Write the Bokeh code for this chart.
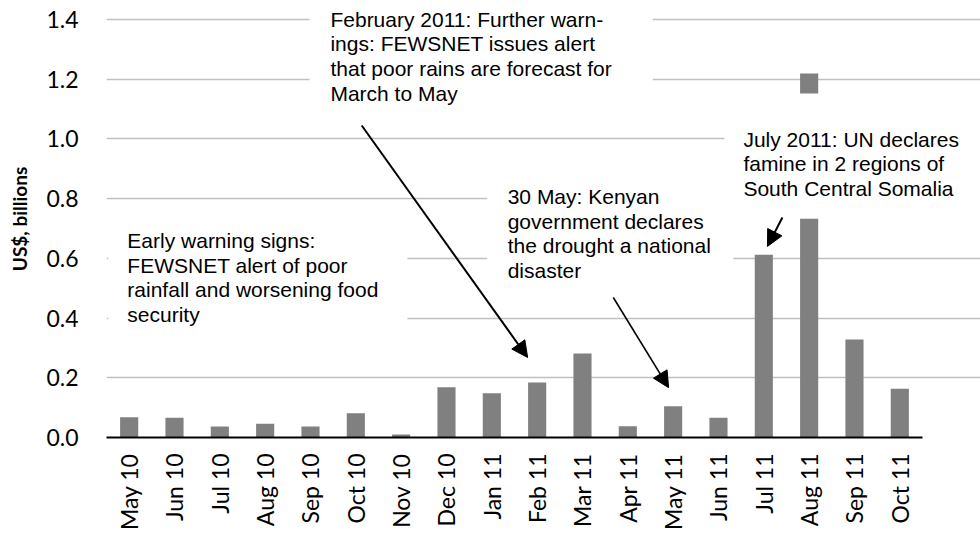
import math
from bokeh.plotting import figure
from bokeh.models import (Range1d, BoxAnnotation, Arrow, NormalHead,
                          Label, ColumnDataSource, FixedTicker, NumeralTickFormatter)
from bokeh.embed import file_html
from bokeh.resources import INLINE

# ---- data ----
months = ["May 10", "Jun 10", "Jul 10", "Aug 10", "Sep 10", "Oct 10", "Nov 10",
          "Dec 10", "Jan 11", "Feb 11", "Mar 11", "Apr 11", "May 11", "Jun 11",
          "Jul 11", "Aug 11", "Sep 11", "Oct 11"]
funding = [0.068, 0.066, 0.037, 0.046, 0.037, 0.081, 0.010, 0.168, 0.148, 0.184,
           0.281, 0.038, 0.105, 0.066, 0.612, 1.219, 0.328, 0.163]
y_ticks = [0.0, 0.2, 0.4, 0.6, 0.8, 1.0, 1.2, 1.4]

note_texts = [
    "Early warning signs:\nFEWSNET alert of poor\nrainfall and worsening food\nsecurity",
    "February 2011: Further warn-\nings: FEWSNET issues alert\nthat poor rains are forecast for\nMarch to May",
    "30 May: Kenyan\ngovernment declares\nthe drought a national\ndisaster",
    "July 2011: UN declares\nfamine in 2 regions of\nSouth Central Somalia",
]
note_x = [0.46, 4.94, 8.85, 14.05]
note_y = [0.698, 1.439, 0.846, 1.037]
# white text-box backgrounds (left, right, bottom, top)
box_left = [0.04, 4.48, 8.40, 13.63]
box_right = [6.64, 12.05, 13.83, 19.5]
box_bottom = [0.352, 1.112, 0.519, 0.733]
box_top = [0.72, 1.6, 0.861, 1.152]
# arrows
arr_x0 = [5.63, 11.18, 14.91]
arr_y0 = [1.045, 0.469, 0.737]
arr_x1 = [9.29, 12.40, 14.58]
arr_y1 = [0.268, 0.167, 0.640]
arr_w = [2, 1.6, 2]

xpos = [i + 0.5 for i in range(len(months))]
src = ColumnDataSource(dict(x=xpos, value=funding, month=months))

p = figure(x_range=Range1d(0, 19.28),
           y_range=Range1d(0, 1.4636),
           width=980, height=533,
           min_border_left=106, min_border_right=0, min_border_top=0,
           min_border_bottom=96,
           output_backend="svg", toolbar_location=None)

p.vbar(x="x", top="value", width=0.4, source=src,
       fill_color="#808080", line_color=None)

p.outline_line_color = None
p.xgrid.grid_line_color = None
p.ygrid.grid_line_color = "#c0c0c0"
p.ygrid.grid_line_width = 1.7
p.ygrid.ticker = FixedTicker(ticks=y_ticks)
p.ygrid.bounds = (0, len(months))

p.yaxis.ticker = FixedTicker(ticks=y_ticks)
p.yaxis.formatter = NumeralTickFormatter(format="0.0")
p.yaxis.axis_line_color = None
p.yaxis.major_tick_line_color = None
p.yaxis.minor_tick_line_color = None
p.yaxis.major_label_standoff = 22
p.yaxis.major_label_text_font = "Lato"
p.yaxis.major_label_text_font_size = "23px"
p.yaxis.major_label_text_color = "black"
p.yaxis.axis_label = "US$, billions"
p.yaxis.axis_label_text_font = "Lato"
p.yaxis.axis_label_text_font_style = "bold"
p.yaxis.axis_label_text_font_size = "19px"
p.yaxis.axis_label_text_color = "black"
p.yaxis.axis_label_standoff = 12

p.xaxis.bounds = (0, len(months))
p.xaxis.ticker = FixedTicker(ticks=xpos)
p.xaxis.major_label_overrides = {x: m for x, m in zip(xpos, months)}
p.xaxis.axis_line_color = "black"
p.xaxis.axis_line_width = 2
p.xaxis.major_tick_line_color = None
p.xaxis.minor_tick_line_color = None
p.xaxis.major_label_orientation = math.pi / 2
p.xaxis.major_label_standoff = 10
p.xaxis.major_label_text_font = "Lato"
p.xaxis.major_label_text_font_size = "23px"
p.xaxis.major_label_text_color = "black"

for l, r, b, t in zip(box_left, box_right, box_bottom, box_top):
    p.add_layout(BoxAnnotation(left=l, right=r, bottom=b, top=t,
                               fill_color="white", fill_alpha=1.0,
                               line_color=None))

for x0, y0, x1, y1, w in zip(arr_x0, arr_y0, arr_x1, arr_y1, arr_w):
    p.add_layout(Arrow(end=NormalHead(size=16, fill_color="black",
                                      line_color="black"),
                       x_start=x0, y_start=y0, x_end=x1, y_end=y1,
                       line_color="black", line_width=w))

for txt, x, y in zip(note_texts, note_x, note_y):
    p.add_layout(Label(x=x, y=y, text=txt, text_font="Liberation Sans",
                       text_font_size="21px", text_baseline="top",
                       text_align="left", text_line_height=1.07,
                       text_color="black"))

open("out.html", "w").write(file_html(p, INLINE))
